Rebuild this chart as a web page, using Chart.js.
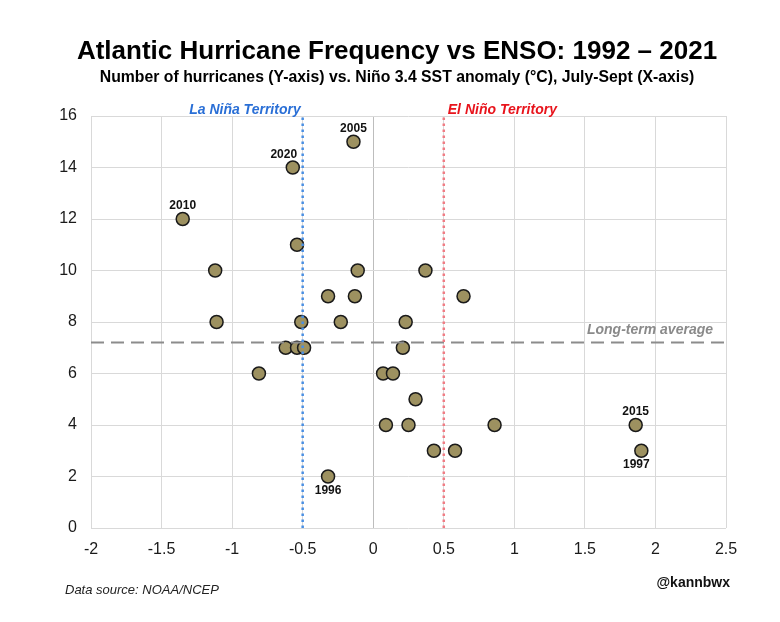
<!DOCTYPE html>
<html>
<head>
<meta charset="utf-8">
<title>Atlantic Hurricane Frequency vs ENSO</title>
<script src="https://cdn.jsdelivr.net/npm/chart.js@4/dist/chart.umd.min.js"></script>
<style>
    body { margin: 0; background: #fff; }
    canvas { display: block; }
</style>
</head>
<body>
<canvas id="chart" width="780" height="622"></canvas>
<script>
// --- Data ---
// Nino 3.4 SST anomaly, July-Sept (deg C)
const ninoAnomaly = [
    -1.35, -0.57, -0.14, -0.54, -1.12, -0.11, -0.32, -0.13, -1.11, -0.51,
    -0.23, 0.23, 0.37, 0.64, -0.62, -0.54, -0.49, -0.81, -0.32, 0.07,
    0.14, 0.21, 0.30, 0.09, 0.25, 0.86, 0.43, 0.58, 1.86, 1.90
];
// Number of Atlantic hurricanes
const hurricanes = [
    12, 14, 15, 11, 10, 10, 9, 9, 8, 8,
    8, 8, 10, 9, 7, 7, 7, 6, 2, 6,
    6, 7, 5, 4, 4, 4, 3, 3, 4, 3
];
// year labels shown on the chart (null = no label)
const yearLabels = [
    '2010', '2020', '2005', null, null, null, null, null, null, null,
    null, null, null, null, null, null, null, null, '1996', null,
    null, null, null, null, null, null, null, null, '2015', '1997'
];
// where the year label sits: above or below the point
const labelSide = { '2010': 'up', '2020': 'up', '2005': 'up', '2015': 'up', '1996': 'down', '1997': 'down' };

const laNinaLine = -0.5;
const elNinoLine = 0.5;
const longTermAvg = 7.2;

const xTicks = [-2, -1.5, -1, -0.5, 0, 0.5, 1, 1.5, 2, 2.5];
const xTickLabels = ['-2', '-1.5', '-1', '-0.5', '0', '0.5', '1', '1.5', '2', '2.5'];
const yTicks = [0, 2, 4, 6, 8, 10, 12, 14, 16];

const FONT = "'Liberation Sans', Arial, sans-serif";

// --- Build chart data ---
const points = ninoAnomaly.map((x, i) => ({ x: x, y: hurricanes[i] }));

const ctx = document.getElementById('chart').getContext('2d');

// --- Text overlays (titles, year tags, territory labels, footer) ---
const overlayPlugin = {
    id: 'overlay',
    afterDatasetsDraw(chart) {
        const c = chart.ctx;
        const xs = chart.scales.x;
        const ys = chart.scales.y;
        c.save();

        // year tags
        c.font = 'bold 12px ' + FONT;
        c.fillStyle = '#111';
        c.textAlign = 'center';
        c.textBaseline = 'middle';
        points.forEach((p, i) => {
            const yr = yearLabels[i];
            if (!yr) return;
            let px = xs.getPixelForValue(p.x);
            const py = ys.getPixelForValue(p.y);
            if (yr === '2020') px -= 9;
            if (yr === '1997') px -= 5;
            const dy = labelSide[yr] === 'up' ? -13 : 14;
            c.fillText(yr, px, py + dy);
        });

        // territory labels
        const top = chart.chartArea.top;
        c.font = 'italic bold 14px ' + FONT;
        c.textBaseline = 'middle';
        c.fillStyle = '#2a6fd6';
        c.textAlign = 'right';
        c.fillText('La Niña Territory', xs.getPixelForValue(laNinaLine) - 2, top - 6);
        c.fillStyle = '#e8141c';
        c.textAlign = 'left';
        c.fillText('El Niño Territory', xs.getPixelForValue(elNinoLine) + 4, top - 6);

        // long-term average label
        c.fillStyle = '#8a8a8a';
        c.textAlign = 'right';
        c.fillText('Long-term average', chart.chartArea.right - 13, ys.getPixelForValue(longTermAvg) - 12);

        c.restore();
    },
    afterDraw(chart) {
        const c = chart.ctx;
        c.save();
        c.fillStyle = '#000';
        c.textAlign = 'center';
        c.textBaseline = 'alphabetic';
        c.font = 'bold 26px ' + FONT;
        c.fillText('Atlantic Hurricane Frequency vs ENSO: 1992 – 2021', 397, 59);
        c.font = 'bold 15.8px ' + FONT;
        c.fillText('Number of hurricanes (Y-axis) vs. Niño 3.4 SST anomaly (°C), July-Sept (X-axis)', 397, 82);

        // footer
        c.textBaseline = 'middle';
        c.textAlign = 'left';
        c.fillStyle = '#222';
        c.font = 'italic 13px ' + FONT;
        c.fillText('Data source: NOAA/NCEP', 65, 590);
        c.textAlign = 'right';
        c.fillStyle = '#111';
        c.font = 'bold 14px ' + FONT;
        c.fillText('@kannbwx', 730, 583);
        c.restore();
    }
};

new Chart(ctx, {
    type: 'scatter',
    data: {
        datasets: [
            {
                label: 'Hurricanes',
                data: points,
                order: 1,
                pointRadius: 6.5,
                pointHoverRadius: 6.5,
                pointBackgroundColor: '#9d9160',
                pointBorderColor: '#1a1a1a',
                pointBorderWidth: 1.5
            },
            {
                label: 'La Niña',
                type: 'line',
                data: [{ x: laNinaLine, y: yTicks[0] }, { x: laNinaLine, y: yTicks[yTicks.length - 1] }],
                order: 0,
                borderColor: '#4a8fe3',
                borderWidth: 2.5,
                borderDash: [2.5, 3.5],
                pointRadius: 0
            },
            {
                label: 'El Niño',
                type: 'line',
                data: [{ x: elNinoLine, y: yTicks[0] }, { x: elNinoLine, y: yTicks[yTicks.length - 1] }],
                order: 0,
                borderColor: '#f07c84',
                borderWidth: 2.5,
                borderDash: [2.5, 3.5],
                pointRadius: 0
            },
            {
                label: 'Long-term average',
                type: 'line',
                data: [{ x: xTicks[0], y: longTermAvg }, { x: xTicks[xTicks.length - 1], y: longTermAvg }],
                order: 0,
                borderColor: '#8c8c8c',
                borderWidth: 2,
                borderDash: [13, 7],
                pointRadius: 0
            }
        ]
    },
    options: {
        responsive: false,
        animation: false,
        layout: {
            padding: { top: 116, right: 54, bottom: 0, left: 0 }
        },
        plugins: {
            legend: { display: false },
            tooltip: { enabled: false },
            title: { display: false }
        },
        scales: {
            x: {
                type: 'linear',
                min: xTicks[0],
                max: xTicks[xTicks.length - 1],
                afterBuildTicks: (scale) => { scale.ticks = xTicks.map(v => ({ value: v })); },
                afterFit: (scale) => { scale.height = 94; },
                border: { display: false },
                grid: {
                    color: (c) => c.tick && c.tick.value === 0 ? '#bdbdbd' : '#d9d9d9',
                    lineWidth: 1,
                    drawTicks: false
                },
                ticks: {
                    padding: 12,
                    color: '#1a1a1a',
                    font: { family: FONT, size: 16 },
                    callback: (value, index) => xTickLabels[index]
                }
            },
            y: {
                type: 'linear',
                min: yTicks[0],
                max: yTicks[yTicks.length - 1],
                afterBuildTicks: (scale) => { scale.ticks = yTicks.map(v => ({ value: v })); },
                afterFit: (scale) => { scale.width = 91; },
                border: { display: false },
                grid: {
                    color: '#d9d9d9',
                    lineWidth: 1,
                    drawTicks: false
                },
                ticks: {
                    padding: 14,
                    color: '#1a1a1a',
                    font: { family: FONT, size: 16 }
                }
            }
        }
    },
    plugins: [overlayPlugin]
});
</script>
</body>
</html>
